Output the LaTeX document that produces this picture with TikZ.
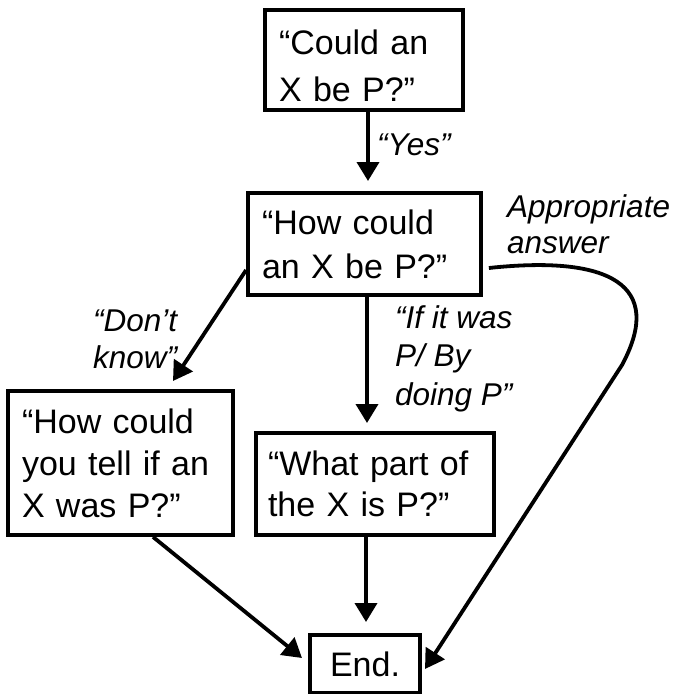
\documentclass[tikz,border=0pt]{standalone}
\usepackage{fontspec}
\setmainfont{Liberation Sans}
\usetikzlibrary{arrows.meta}
\begin{document}
\begin{tikzpicture}[x=1pt,y=-1pt,
  box/.style={draw, line width=3.8pt, align=left, inner xsep=14pt, inner ysep=0pt,
    font=\fontsize{34}{44}\selectfont},
  lbl/.style={inner sep=0pt, anchor=base west, align=left,
    font=\fontsize{31.5}{37}\selectfont\itshape},
  arr/.style={line width=3.8pt, -{Triangle[length=19pt,width=22pt]}}]
\useasboundingbox (0,0) rectangle (676,694);

\node[box, text width=170pt, minimum height=100pt, font=\fontsize{34}{47}\selectfont] (b1) at (364,60) {\rule{0pt}{37pt}“Could an\\X be P?”};
\node[box, text width=205pt, minimum height=102pt] (b2) at (364.5,244) {“How could\\an X be P?”};
\node[box, text width=197pt, minimum height=144pt, font=\fontsize{34}{42}\selectfont] (b3) at (120.5,463) {“How could\\you tell if an\\X was P?”};
\node[box, inner xsep=12pt, text width=214pt, minimum height=102pt, font=\fontsize{34}{41}\selectfont] (b4) at (375,484) {“What part of\\the X is P?”};
\node[box, align=center, inner xsep=0pt, minimum width=110pt, minimum height=58pt] (end) at (365,664) {End.};

\coordinate (t2) at (368,181);
\coordinate (t3) at (173,381);
\coordinate (t4) at (367,423);
\coordinate (te1) at (302,658);
\coordinate (te2) at (366,622);
\coordinate (te3) at (425,669);

\draw[arr] ([xshift=4pt]b1.south) -- (t2);
\draw[arr] ([yshift=-26pt]b2.west) -- (t3);
\draw[arr] ([xshift=2.5pt]b2.south) -- (t4);
\draw[arr] ([xshift=32.5pt]b3.south) -- (te1);
\draw[arr] ([xshift=-9pt]b4.south) -- (te2);
\draw[arr] ([xshift=6pt,yshift=-24pt]b2.east) .. controls (610,255) and (665,285) .. (622,365) -- (te3);

\node[lbl] (lyes) at (377,155) {“Yes”};
\node[lbl, font=\fontsize{31.5}{36}\selectfont\itshape] (lapp) at (507,253) {Appropriate\\answer};
\node[lbl] (ldk) at (93,368) {“Don’t\\know”};
\node[lbl, font=\fontsize{31.5}{38.5}\selectfont\itshape] (lif) at (395,405) {“If it was\\P/ By\\doing P”};
\end{tikzpicture}
\end{document}
